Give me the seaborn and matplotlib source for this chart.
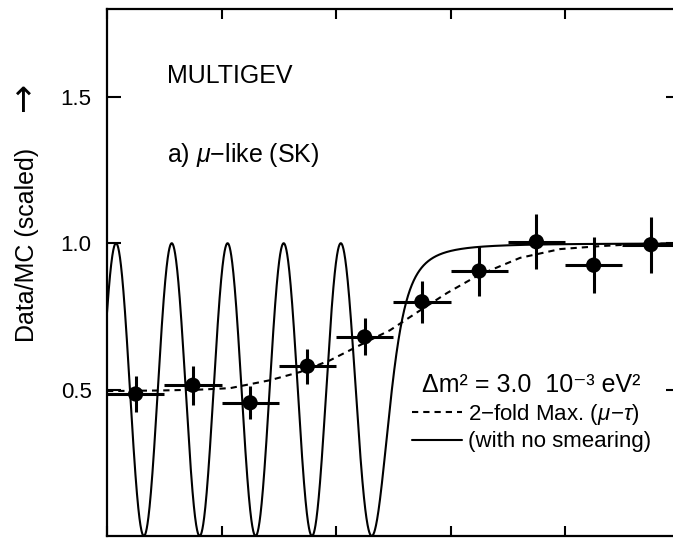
import numpy as np
import pandas as pd
import seaborn as sns
import matplotlib.pyplot as plt

# Data/MC ratio per cos(zenith) bin
cos_zenith = [-0.9, -0.7, -0.5, -0.3, -0.1, 0.1, 0.3, 0.5, 0.7, 0.9]
ratio = [0.485, 0.515, 0.455, 0.58, 0.68, 0.80, 0.905, 1.005, 0.925, 0.995]
ratio_err = [0.063, 0.066, 0.056, 0.06, 0.063, 0.072, 0.084, 0.094, 0.095, 0.095]
bin_halfwidth = [0.1] * 10

# smeared 2-fold maximal mixing prediction (dashed)
smeared_cos = [-1.0, -0.815, -0.675, -0.57, -0.431, -0.326, -0.221, -0.116,
               -0.011, 0.093, 0.188, 0.296, 0.443, 0.583, 0.722, 0.85, 1.0]
smeared_ratio = [0.495, 0.497, 0.50, 0.505, 0.532, 0.56, 0.60, 0.652,
                 0.703, 0.77, 0.83, 0.89, 0.95, 0.98, 0.99, 0.997, 1.0]

# unsmeared prediction: dm2 from the label, E and production height fitted by eye
dm2 = 3.0e-3          # eV^2
energy = 3.0          # GeV
earth_radius = 6371.0  # km
prod_height = 27.0     # km

y_ticks = [0.5, 1.0, 1.5]
x_ticks = [-1.0, -0.6, -0.2, 0.2, 0.6, 1.0]


def survival(c):
    """nu_mu survival probability for maximal mixing vs cos(zenith)."""
    R, h = earth_radius, prod_height
    L = np.sqrt(R**2 * c**2 + 2 * R * h + h**2) - R * c
    return 1 - np.sin(1.27 * dm2 * L / energy) ** 2


sns.set_theme(style="ticks")
plt.rcParams['font.family'] = ['Liberation Sans', 'DejaVu Sans']
plt.rcParams['mathtext.fontset'] = 'custom'
plt.rcParams['mathtext.rm'] = 'Liberation Sans'
plt.rcParams['mathtext.it'] = 'Liberation Sans:italic'
for key in ['text.color', 'axes.labelcolor', 'xtick.color', 'ytick.color',
            'axes.edgecolor']:
    plt.rcParams[key] = 'black'

fig = plt.figure(figsize=(6.73, 5.42), dpi=100)
ax = fig.add_axes([107 / 673, 6 / 542, 572.5 / 673, 527 / 542])

c_fine = np.linspace(-1, 1, 3000)
nosmear = pd.DataFrame({'c': c_fine, 'p': survival(c_fine)})
smeared = pd.DataFrame({'c': smeared_cos, 'p': smeared_ratio})

sns.lineplot(data=nosmear, x='c', y='p', ax=ax, color='black', lw=1.5,
             label='(with no smearing)', sort=False)
sns.lineplot(data=smeared, x='c', y='p', ax=ax, color='black', lw=1.5,
             dashes=False, label='2\u2212fold Max. ($\\mu\\!-\\!\\tau$)')
ax.lines[1].set_dashes([3.0, 2.4])

ax.errorbar(cos_zenith, ratio, xerr=bin_halfwidth, yerr=ratio_err, fmt='none',
            ecolor='black', elinewidth=2.2, capsize=0, zorder=3)
sns.scatterplot(x=cos_zenith, y=ratio, ax=ax, color='black', s=120,
                edgecolor='none', zorder=4)

ax.set_xlim(-1, 1)
ax.set_ylim(0, 1.8)
ax.set_xticks(x_ticks)
ax.set_yticks(y_ticks)
ax.tick_params(axis='both', direction='in', width=1.5, colors='black',
               top=True, right=True, labelbottom=False)
ax.tick_params(axis='x', length=7)
ax.tick_params(axis='y', length=10, labelsize=16, pad=11)
for s in ax.spines.values():
    s.set_linewidth(1.6)
    s.set_color('black')
ax.set_xlabel('')
ax.set_ylabel('')

fig.text(27 / 673, 1 - 245 / 542, 'Data/MC (scaled)', rotation=90,
         ha='center', va='center', fontsize=18)
fig.text(22 / 673, 1 - 97 / 542, '\u2192', rotation=90, family='DejaVu Sans',
         ha='center', va='center', fontsize=25)

ax.text(0.105, 0.86, 'MULTIGEV', transform=ax.transAxes, fontsize=18,
        ha='left', va='baseline')
ax.text(0.105, 0.71, 'a) $\\mu$\u2212like (SK)', transform=ax.transAxes,
        fontsize=18, ha='left', va='baseline')

handles, labels = ax.get_legend_handles_labels()
leg = ax.legend(handles[::-1], labels[::-1],
                title='\u0394m\u00b2 = 3.0  10\u207b\u00b3 eV\u00b2',
                loc='upper left', bbox_to_anchor=(0.505, 0.338),
                frameon=False, fontsize=16, title_fontsize=18,
                handlelength=2.25, handletextpad=0.3, labelspacing=0.2,
                borderpad=0.2)

fig.savefig('out.png', dpi=100)
